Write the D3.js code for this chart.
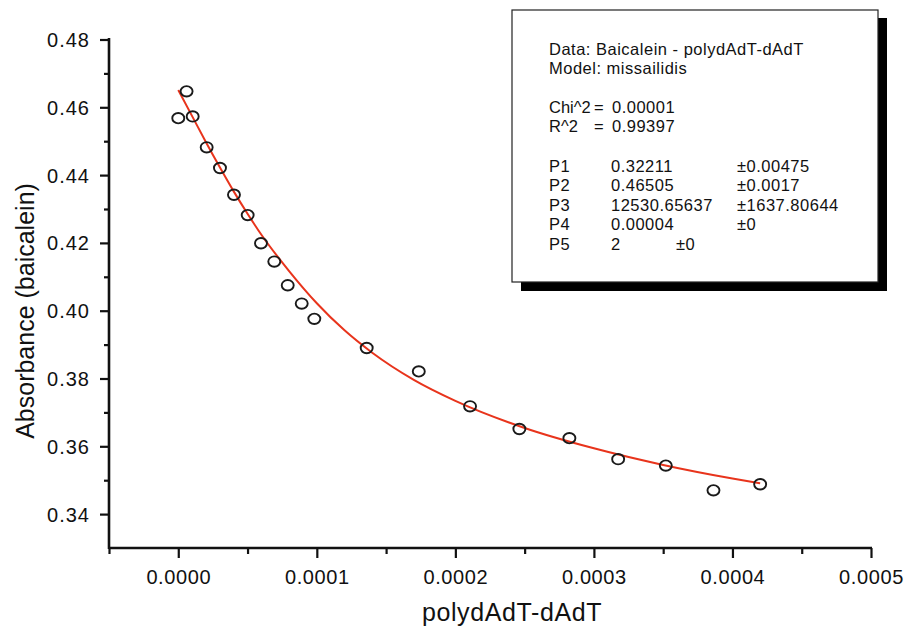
<!DOCTYPE html>
<html><head><meta charset="utf-8">
<script src="https://cdn.jsdelivr.net/npm/d3@7"></script>
<style>body{margin:0;background:#fff}svg{display:block}text{font-family:"Liberation Sans",Arial,sans-serif;fill:#111}</style>
</head><body><svg id="c" width="907" height="629"></svg>
<script>
// data
const concentration = [0.000000, 0.000006, 0.0000104, 0.0000205, 0.0000301, 0.0000402, 0.0000501, 0.0000597, 0.0000693, 0.000079, 0.0000891, 0.0000982, 0.000136, 0.0001736, 0.0002106, 0.0002462, 0.0002823, 0.0003175, 0.0003519, 0.0003863, 0.00042];
const absorbance = [0.4568, 0.4647, 0.4573, 0.4482, 0.4421, 0.4342, 0.4282, 0.4199, 0.4145, 0.4075, 0.4021, 0.3976, 0.3890, 0.3821, 0.3718, 0.3651, 0.3624, 0.3562, 0.3543, 0.3470, 0.3488];
const fitX = [0, 0.00001, 0.00002, 0.00003, 0.00004, 0.00005, 0.00006, 0.00008, 0.0001, 0.00012, 0.00014, 0.00017, 0.0002, 0.00025, 0.0003, 0.00035, 0.0004, 0.00042];
const fitY = [0.4651, 0.4574, 0.4497, 0.4423, 0.4352, 0.4286, 0.4224, 0.4117, 0.4022, 0.3942, 0.3876, 0.3796, 0.3734, 0.3654, 0.3594, 0.3545, 0.3505, 0.3491];
const xTicks = [0, 0.0001, 0.0002, 0.0003, 0.0004, 0.0005];
const xMinorTicks = [-0.00005, 0.00005, 0.00015, 0.00025, 0.00035, 0.00045];
const yTicks = [0.34, 0.36, 0.38, 0.40, 0.42, 0.44, 0.46, 0.48];
const yMinorTicks = [0.35, 0.37, 0.39, 0.41, 0.43, 0.45, 0.47];
const legendHead = ["Data: Baicalein - polydAdT-dAdT", "Model: missailidis"];
const statNames = ["Chi^2", "R^2"];
const statValues = ["0.00001", "0.99397"];
const paramNames = ["P1", "P2", "P3", "P4", "P5"];
const paramValues = ["0.32211", "0.46505", "12530.65637", "0.00004", "2"];
const paramErrors = ["\u00b10.00475", "\u00b10.0017", "\u00b11637.80644", "\u00b10", "\u00b10"];

const svg = d3.select("#c");
const x = d3.scaleLinear().domain([-0.00005, 0.0005]).range([109, 871]);
const y = d3.scaleLinear().domain([0.33, 0.48]).range([548, 39.5]);

// legend box with shadow
svg.append("rect").attr("x", 521).attr("y", 18).attr("width", 366).attr("height", 273).attr("fill", "#000");
svg.append("rect").attr("x", 512).attr("y", 10).attr("width", 366).attr("height", 272).attr("fill", "#fff").attr("stroke", "#222").attr("stroke-width", 1.2);
const lg = svg.append("g").style("font-size", "16.5px").style("letter-spacing", "0.5px");
legendHead.forEach((t, i) => lg.append("text").attr("x", 549).attr("y", 55 + i * 19).text(t));
statNames.forEach((s, i) => {
  const yy = 113 + i * 19;
  lg.append("text").attr("x", 549).attr("y", yy).style("letter-spacing", "0px").text(s);
  lg.append("text").attr("x", 594).attr("y", yy).text("=");
  lg.append("text").attr("x", 612).attr("y", yy).text(statValues[i]);
});
paramNames.forEach((p, i) => {
  const yy = 171.5 + i * 19.5;
  lg.append("text").attr("x", 549).attr("y", yy).text(p);
  lg.append("text").attr("x", 611).attr("y", yy).text(paramValues[i]);
  lg.append("text").attr("x", p === "P5" ? 676 : 737).attr("y", yy).text(paramErrors[i]);
});

// axes
const gx = svg.append("g").attr("transform", "translate(0,548)");
gx.call(d3.axisBottom(x).tickValues(xTicks).tickSize(10).tickFormat(d3.format(".4f")));
const gxm = svg.append("g").attr("transform", "translate(0,548)");
gxm.call(d3.axisBottom(x).tickValues(xMinorTicks).tickSize(6).tickFormat(""));
const gy = svg.append("g").attr("transform", "translate(109,0)");
gy.call(d3.axisLeft(y).tickValues(yTicks).tickSize(9).tickFormat(d3.format(".2f")));
const gym = svg.append("g").attr("transform", "translate(109,0)");
gym.call(d3.axisLeft(y).tickValues(yMinorTicks).tickSize(5).tickFormat(""));
[gx, gxm, gy, gym].forEach(g => {
  g.select(".domain").remove();
  g.selectAll(".tick line").attr("stroke", "#111").attr("stroke-width", 2.2);
  g.selectAll("text").attr("fill", "#111").style("font-family", "Liberation Sans, Arial, sans-serif");
});
gx.selectAll("text").style("font-size", "20px").style("letter-spacing", "0.6px").attr("dy", "0").attr("y", 36);
gy.selectAll("text").style("font-size", "20px").style("letter-spacing", "1px").attr("x", -19).attr("dy", "0.35em");
svg.append("line").attr("x1", 109).attr("x2", 872).attr("y1", 548).attr("y2", 548).attr("stroke", "#111").attr("stroke-width", 2.6);
svg.append("line").attr("x1", 109).attr("x2", 109).attr("y1", 38).attr("y2", 549).attr("stroke", "#111").attr("stroke-width", 2.6);

// axis titles
svg.append("text").attr("x", 512).attr("y", 621).attr("text-anchor", "middle").style("font-size", "25px").style("letter-spacing", "0.6px").text("polydAdT-dAdT");
svg.append("text").attr("transform", "translate(34,311) rotate(-90)").attr("text-anchor", "middle").style("font-size", "25px").text("Absorbance (baicalein)");

// fit curve
const line = d3.line().x((d, i) => x(fitX[i])).y((d, i) => y(fitY[i])).curve(d3.curveMonotoneX);
svg.append("path").datum(fitX).attr("d", line).attr("fill", "none").attr("stroke", "#e8341c").attr("stroke-width", 2);

// data points
svg.append("g").selectAll("ellipse").data(concentration).join("ellipse")
  .attr("cx", (d) => x(d)).attr("cy", (d, i) => y(absorbance[i]))
  .attr("rx", 6).attr("ry", 5.2).attr("fill", "none").attr("stroke", "#1a1a1a").attr("stroke-width", 1.9);
</script></body></html>
